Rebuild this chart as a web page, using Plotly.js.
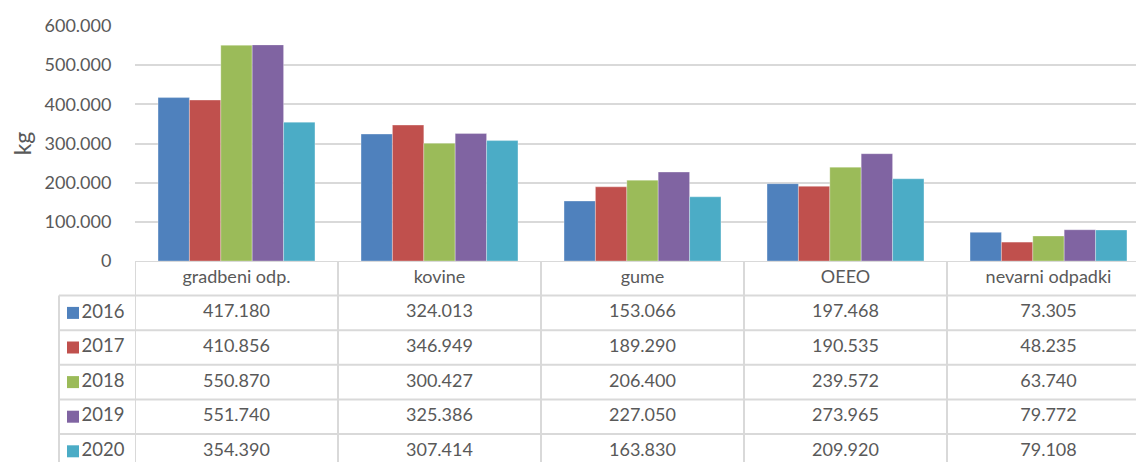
<!DOCTYPE html>
<html>
<head>
<meta charset="utf-8">
<script src="https://cdn.plot.ly/plotly-3.0.1.min.js"></script>
<style>
html,body{margin:0;padding:0;overflow:hidden;background:#fff;}
#chart{width:1150px;height:462px;}
</style>
</head>
<body>
<div id="chart"></div>
<script>
const categories = ['gradbeni odp.', 'kovine', 'gume', 'OEEO', 'nevarni odpadki'];
const years = ['2016', '2017', '2018', '2019', '2020'];
const v2016 = [417180, 324013, 153066, 197468, 73305];
const v2017 = [410856, 346949, 189290, 190535, 48235];
const v2018 = [550870, 300427, 206400, 239572, 63740];
const v2019 = [551740, 325386, 227050, 273965, 79772];
const v2020 = [354390, 307414, 163830, 209920, 79108];
const colors = ['#4F81BD', '#C0504D', '#9BBB59', '#8064A2', '#4BACC6'];
const yTicks = [0, 100000, 200000, 300000, 400000, 500000, 600000];

const series = [v2016, v2017, v2018, v2019, v2020];
const W = 1150, H = 462;
const plotLeft = 135, plotTop = 26, plotBottom = 261, rowH = 34.6;
const txtColor = '#595959';
const fontFam = 'Lato, "Open Sans", sans-serif';
const fmt = n => String(n).replace(/\B(?=(\d{3})+(?!\d))/g, '.');

const traces = [];
series.forEach((vals, i) => {
  traces.push({
    type: 'bar', x: categories, y: vals, name: years[i],
    marker: {color: colors[i], line: {color: 'rgba(255,255,255,0.6)', width: 0.5}},
    xaxis: 'x', yaxis: 'y', hoverinfo: 'skip'
  });
});
// table header
traces.push({
  type: 'scatter', mode: 'text', x: categories, y: categories.map(() => 0.5),
  text: categories, textposition: 'middle center',
  textfont: {family: fontFam, size: 18, color: txtColor},
  xaxis: 'x', yaxis: 'y2', hoverinfo: 'skip', cliponaxis: false
});
// table cells
series.forEach((vals, i) => {
  traces.push({
    type: 'scatter', mode: 'text', x: categories, y: categories.map(() => i + 1.5),
    text: vals.map(fmt), textposition: 'middle center',
    textfont: {family: fontFam, size: 18, color: txtColor},
    xaxis: 'x', yaxis: 'y2', hoverinfo: 'skip', cliponaxis: false
  });
});
// legend column
traces.push({
  type: 'scatter', mode: 'markers+text',
  x: years.map(() => 73), y: years.map((_, i) => i + 1.5),
  text: years, textposition: 'middle right',
  marker: {symbol: 'square', size: 12, color: colors},
  textfont: {family: fontFam, size: 18.5, color: txtColor},
  xaxis: 'x2', yaxis: 'y2', hoverinfo: 'skip', cliponaxis: false
});

const yDomBottom = (H - plotBottom) / H;
const yDomTop = (H - plotTop) / H;
const xDomLeft = plotLeft / W;
const lineCol = '#d9d9d9';
const shapes = [];
shapes.push({type: 'line', xref: 'paper', yref: 'y2', x0: xDomLeft, x1: 1, y0: 0, y1: 0, line: {color: lineCol, width: 2}});
for (let r = 1; r <= 6; r++) {
  shapes.push({type: 'line', xref: 'paper', yref: 'y2', x0: 59 / W, x1: 1, y0: r, y1: r, line: {color: lineCol, width: 2}});
}
for (let c = 0; c < categories.length; c++) {
  shapes.push({type: 'line', xref: 'x', yref: 'y2', x0: c - 0.5, x1: c - 0.5, y0: 0, y1: 7, line: {color: lineCol, width: 2}});
}
shapes.push({type: 'line', xref: 'paper', yref: 'y2', x0: 59 / W, x1: 59 / W, y0: 1, y1: 7, line: {color: lineCol, width: 2}});

const layout = {
  width: W, height: H,
  margin: {l: 0, r: 0, t: 0, b: 0},
  paper_bgcolor: '#fff', plot_bgcolor: 'rgba(0,0,0,0)',
  separators: ',.',
  showlegend: false,
  barmode: 'group', bargap: 0.227, bargroupgap: 0,
  font: {family: fontFam, color: txtColor},
  xaxis: {domain: [xDomLeft, 1], anchor: 'y', type: 'category', range: [-0.5, 4.5],
    showticklabels: false, ticks: '', showgrid: false, zeroline: false, showline: false, fixedrange: true},
  yaxis: {domain: [yDomBottom, yDomTop], anchor: 'x', range: [0, 600000], tickvals: yTicks, tickformat: ',d',
    showgrid: true, gridcolor: lineCol, gridwidth: 2, zeroline: false, showline: false,
    ticks: 'outside', ticklen: 19, tickcolor: 'rgba(0,0,0,0)',
    tickfont: {family: fontFam, size: 18, color: txtColor},
    title: {text: 'kg', font: {family: fontFam, size: 23, color: txtColor}, standoff: 6}},
  yaxis2: {domain: [0, yDomBottom], anchor: 'x', range: [(H - plotBottom) / rowH, 0], autorange: false,
    showticklabels: false, showgrid: false, zeroline: false, showline: false, ticks: ''},
  xaxis2: {domain: [0, xDomLeft], anchor: 'y2', range: [0, plotLeft], showticklabels: false,
    showgrid: false, zeroline: false, showline: false, ticks: ''},
  shapes: shapes
};
Plotly.newPlot('chart', traces, layout, {staticPlot: true, displayModeBar: false});
</script>
</body>
</html>
